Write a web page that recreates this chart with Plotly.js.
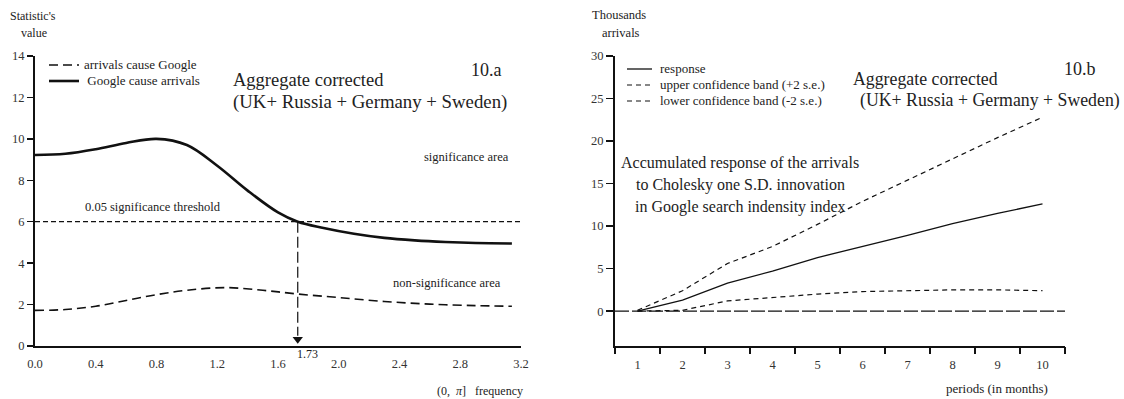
<!DOCTYPE html>
<html><head><meta charset="utf-8">
<script src="https://cdn.plot.ly/plotly-3.0.1.min.js"></script>
<style>body{margin:0;background:#fff}</style>
</head><body><div id="chart" style="width:1124px;height:399px"></div>
<script>
// ---- Panel 10.a data ----
const freqSolid = [0, 0.2, 0.4, 0.6, 0.8, 1.0, 1.2, 1.4, 1.6, 1.73, 1.9, 2.1, 2.3, 2.5, 2.7, 2.9, 3.14];
const googleCauseArrivals = [9.22, 9.28, 9.5, 9.8, 10.0, 9.7, 8.7, 7.5, 6.45, 6.0, 5.7, 5.42, 5.22, 5.1, 5.02, 4.97, 4.95];
const freqDashed = [0, 0.2, 0.4, 0.6, 0.8, 1.0, 1.25, 1.5, 1.73, 2.0, 2.3, 2.6, 2.9, 3.14];
const arrivalsCauseGoogle = [1.72, 1.76, 1.92, 2.2, 2.48, 2.69, 2.82, 2.69, 2.51, 2.34, 2.15, 2.02, 1.95, 1.92];
const thresholdValue = 6;
const crossingFreq = 1.73;
const xTickValsA = [0, 0.4, 0.8, 1.2, 1.6, 2.0, 2.4, 2.8, 3.2];
const xTickTextA = ["0.0", "0.4", "0.8", "1.2", "1.6", "2.0", "2.4", "2.8", "3.2"];
const yTickValsA = [0, 2, 4, 6, 8, 10, 12, 14];
const legendNamesA = ["arrivals cause Google", "\u00a0Google cause arrivals"];

// ---- Panel 10.b data ----
const periods = [1, 2, 3, 4, 5, 6, 7, 8, 9, 10];
const response = [0, 1.3, 3.3, 4.7, 6.3, 7.6, 8.9, 10.3, 11.5, 12.6];
const upperBand = [0.1, 2.4, 5.6, 7.6, 10.2, 12.9, 15.4, 17.9, 20.4, 22.8];
const lowerBand = [0, 0.1, 1.2, 1.6, 2.0, 2.3, 2.4, 2.5, 2.5, 2.4];
const periodTickBounds = [0.5, 1.5, 2.5, 3.5, 4.5, 5.5, 6.5, 7.5, 8.5, 9.5, 10.5];
const yTickValsB = [0, 5, 10, 15, 20, 25, 30];
const legendNamesB = ["response", "upper confidence band (+2 s.e.)", "lower confidence band (-2 s.e.)"];

const W = 1124, H = 399;
const px = v => v / W, py = v => 1 - v / H;
const FONT = "'Liberation Serif', 'Times New Roman', serif";
const TXT = "#222";

const styleDashA = {color: '#111', width: 1.6, dash: '9px,5px', shape: 'spline'};
const styleSolidA = {color: '#111', width: 2.6, shape: 'spline'};
const styleResp = {color: '#111', width: 1.3};
const styleBand = {color: '#111', width: 1.2, dash: '5px,4px'};

const traces = [
  {x: freqDashed, y: arrivalsCauseGoogle, xaxis: 'x', yaxis: 'y', mode: 'lines', name: legendNamesA[0], line: styleDashA},
  {x: freqSolid, y: googleCauseArrivals, xaxis: 'x', yaxis: 'y', mode: 'lines', name: legendNamesA[1], line: styleSolidA},
  {x: [crossingFreq], y: [0.32], xaxis: 'x', yaxis: 'y', mode: 'markers',
   marker: {symbol: 'triangle-down', size: 9, color: '#111'}, hoverinfo: 'skip'},
  {x: periods, y: response, xaxis: 'x2', yaxis: 'y2', mode: 'lines', name: legendNamesB[0], line: styleResp},
  {x: periods, y: upperBand, xaxis: 'x2', yaxis: 'y2', mode: 'lines', name: legendNamesB[1], line: styleBand},
  {x: periods, y: lowerBand, xaxis: 'x2', yaxis: 'y2', mode: 'lines', name: legendNamesB[2], line: styleBand},
  {x: periodTickBounds, y: periodTickBounds.map(() => null), xaxis: 'x3', yaxis: 'y2', mode: 'lines', hoverinfo: 'skip'}
];

const ydom = [1 - 346 / H, 1 - 56 / H];
const tickFont = {family: FONT, size: 12.5, color: '#333'};

const ann = (x, y, text, size, xanchor = 'left', extra = {}) => Object.assign({
  xref: 'paper', yref: 'paper', x: px(x), y: py(y), text, showarrow: false,
  xanchor, yanchor: 'middle', font: {family: FONT, size, color: TXT}
}, extra);

const legendLine = (x0, x1, y, st) => ({type: 'line', xref: 'paper', yref: 'paper', x0: px(x0), x1: px(x1),
  y0: py(y), y1: py(y), line: {color: st.color, width: st.width, dash: st.dash || 'solid'}});

const layout = {
  width: W, height: H, margin: {l: 0, r: 0, t: 0, b: 0},
  paper_bgcolor: '#fff', plot_bgcolor: 'rgba(0,0,0,0)',
  font: {family: FONT, color: TXT},
  showlegend: false,
  xaxis: {domain: [px(35), px(521)], range: [0, 3.2], tickvals: xTickValsA, ticktext: xTickTextA,
    ticks: 'outside', ticklen: 5, tickcolor: 'rgba(0,0,0,0)', showline: true, linewidth: 2, linecolor: '#111',
    showgrid: false, zeroline: false, tickfont: tickFont, anchor: 'y'},
  yaxis: {domain: ydom, range: [0, 14], tickvals: yTickValsA, ticks: 'outside', ticklen: 6, tickwidth: 1.3,
    tickcolor: '#111', showline: true, linewidth: 2, linecolor: '#111', showgrid: false, zeroline: false,
    tickfont: tickFont, anchor: 'x'},
  xaxis2: {domain: [px(615), px(1065)], range: [0.5, 10.5], tickvals: periods, ticks: '',
    showline: true, linewidth: 2, linecolor: '#111', showgrid: false, zeroline: false,
    tickfont: tickFont, anchor: 'y2', ticklabelstandoff: 6},
  xaxis3: {domain: [px(615), px(1065)], range: [0.5, 10.5], overlaying: 'x2', anchor: 'y2', side: 'bottom',
    tickvals: periodTickBounds, showticklabels: false, ticks: 'outside', ticklen: 7, tickwidth: 1.3,
    tickcolor: '#111', showgrid: false, zeroline: false, showline: false},
  yaxis2: {domain: ydom, range: [-4.1, 30], tickvals: yTickValsB, ticks: 'outside', ticklen: 7, tickwidth: 1.3,
    tickcolor: '#111', showline: true, linewidth: 2, linecolor: '#111', showgrid: false, zeroline: false,
    tickfont: tickFont, anchor: 'x2'},
  shapes: [
    {type: 'line', xref: 'x domain', yref: 'y', x0: 0, x1: 1, y0: thresholdValue, y1: thresholdValue,
     line: {color: '#111', width: 1.2, dash: '5px,3px'}},
    {type: 'line', xref: 'x', yref: 'y', x0: crossingFreq, x1: crossingFreq, y0: thresholdValue, y1: 0.5,
     line: {color: '#111', width: 1.2, dash: '11px,4px'}},
    {type: 'line', xref: 'x2 domain', yref: 'y2', x0: 0, x1: 1, y0: 0, y1: 0,
     line: {color: '#111', width: 1.3, dash: '14px,3px'}},
    legendLine(49, 79, 65, {color: '#111', width: 1.6, dash: '9px,5px'}),
    legendLine(49, 79, 81, styleSolidA),
    legendLine(627, 652, 69, styleResp),
    legendLine(627, 652, 85, styleBand),
    legendLine(627, 652, 101, styleBand)
  ],
  annotations: [
    ann(82, 65, legendNamesA[0], 13),
    ann(82, 81, legendNamesA[1], 13),
    ann(658, 69, legendNamesB[0], 13),
    ann(658, 85, legendNamesB[1], 13),
    ann(658, 101, legendNamesB[2], 13),
    ann(33, 16, "Statistic's", 12, 'center'),
    ann(34, 33, "value", 12, 'center'),
    ann(231, 80, "Aggregate corrected", 18.5),
    ann(231, 102, "(UK+ Russia + Germany + Sweden)", 18.8),
    ann(469, 70, "10.a", 18),
    ann(466, 157, "significance area", 12.5, 'center'),
    ann(153, 207, "0.05 significance threshold", 12.5, 'center'),
    ann(447, 283, "non-significance area", 12.5, 'center'),
    ann(295, 354, "1.73", 12),
    ann(525, 391, "(0,  <i>π</i>]   frequency", 12, 'right'),
    ann(619, 15, "Thousands", 12.5, 'center'),
    ann(621, 33, "arrivals", 12.5, 'center'),
    ann(851, 79, "Aggregate corrected", 17.8),
    ann(858, 101, "(UK+ Russia + Germany + Sweden)", 17.8),
    ann(1062, 69, "10.b", 18),
    ann(740, 163, "Accumulated response of the arrivals", 16, 'center'),
    ann(740, 185, "to Cholesky one S.D. innovation", 16, 'center'),
    ann(740, 207, "in Google search indensity index", 16, 'center'),
    ann(1050, 388, "periods (in months)", 13, 'right')
  ]
};

Plotly.newPlot('chart', traces, layout, {displayModeBar: false, staticPlot: true});
</script>
</body></html>
